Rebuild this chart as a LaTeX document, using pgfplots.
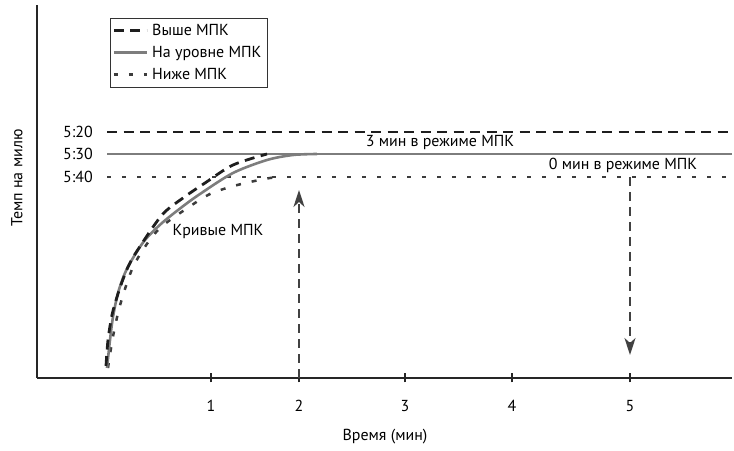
\documentclass[border=0pt]{standalone}
\usepackage{pgfplots}
\pgfplotsset{compat=1.18}
\usepackage{fontspec}
\setmainfont{PT Sans}
\usetikzlibrary{arrows.meta}
\definecolor{solidgray}{RGB}{125,125,125}
\definecolor{darkln}{RGB}{30,30,30}
\definecolor{dotln}{RGB}{60,60,60}
\definecolor{arrowc}{RGB}{65,65,65}
\begin{document}
\fontsize{16}{18}\selectfont
\begin{tikzpicture}
\begin{axis}[
  x=1bp, y=1bp,
  xmin=37, xmax=732, ymin=73, ymax=446,
  clip=false,
  axis x line=bottom, axis y line=left,
  axis line style={-, line width=1.6bp, black!85},
  ytick=\empty,
  xtick={211,299,405,512,630},
  xticklabels={1,2,3,4,5},
  tick align=center,
  major tick length=9bp,
  xtick style={line width=1.2bp, black!85},
  xticklabel style={yshift=-12bp},
  /pgf/number format/assume math mode=true,
  ticklabel style={font=\fontsize{16}{18}\selectfont},
  xlabel={Время (мин)},
  ylabel={Темп на милю},
  xlabel style={at={(axis description cs:0.5007,-0.158)}, anchor=center, font=\fontsize{16}{18}\selectfont},
  ylabel style={at={(axis description cs:-0.0288,0.536)}, anchor=center, font=\fontsize{16}{18}\selectfont},
  legend style={at={(axis cs:110,433)}, anchor=north west, draw=black!80, line width=0.8bp,
    font=\fontsize{16}{18}\selectfont, row sep=4.5bp, inner xsep=2bp, inner ysep=3.5bp, cells={anchor=west},
    nodes={inner xsep=4bp}},
  legend image code/.code={\draw[#1] (0bp,0bp) -- (33bp,0bp);},
]
% horizontal levels
\addplot[darkln, line width=2.8bp, dash pattern=on 10bp off 6.5bp] coordinates {(107,319) (732,319)};
\addlegendentry{Выше МПК}
\addplot[solidgray, line width=2.8bp] coordinates {(107,297) (732,297)};
\addlegendentry{На уровне МПК}
\addplot[dotln, line width=2.8bp, dash pattern=on 4bp off 11bp] coordinates {(107,274) (732,274)};
\addlegendentry{Ниже МПК}
% curves
\addplot[forget plot, dotln, line width=2.5bp, dash pattern=on 5bp off 11bp, smooth] coordinates {
(108,83) (112,109) (116,129) (121,149) (134,186) (158,221) (192,246) (210,257) (230,264) (250,269) (270,273) (282,274)};
\addplot[forget plot, solidgray, line width=2.6bp, smooth] coordinates {
(107,83) (110,111) (113,134) (118,158) (125,178) (133,193) (145,211) (162,228) (182,244) (200,257) (233,278) (267,291) (293,296) (317,297)};
\addplot[forget plot, darkln, line width=2.8bp, dash pattern=on 10bp off 6.5bp, smooth] coordinates {
(106,85) (108,111) (112,136) (117,154) (122,169) (128,184) (137,200) (162,236) (183,253) (205,268) (233,286) (267,297)};
% arrows
\addplot[forget plot, arrowc, line width=2.3bp, dash pattern=on 9bp off 6bp, -{Stealth[length=17bp,width=11bp,inset=5bp]}] coordinates {(299,73) (299,261)};
\addplot[forget plot, arrowc, line width=2.3bp, dash pattern=on 9bp off 6bp, -{Stealth[length=17bp,width=11bp,inset=5bp]}] coordinates {(630,274) (630,96)};
% y level labels
\node[anchor=east, inner sep=0pt] at (axis cs:93,319) {5:20};
\node[anchor=east, inner sep=0pt] at (axis cs:93,297) {5:30};
\node[anchor=east, inner sep=0pt] at (axis cs:93,274) {5:40};
% annotations
\node[inner sep=0pt] at (axis cs:440,308) {3 мин в режиме МПК};
\node[inner sep=0pt] at (axis cs:623,286) {0 мин в режиме МПК};
\node[inner sep=0pt] at (axis cs:218,219) {Кривые МПК};
\path (axis cs:0,0) rectangle (axis cs:734,451);
\end{axis}
\end{tikzpicture}
\end{document}
